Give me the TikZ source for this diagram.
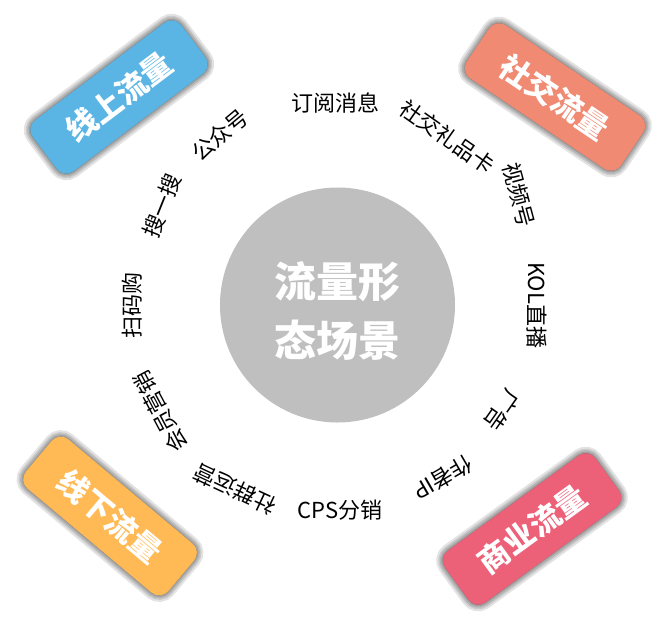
\documentclass[tikz,border=0pt]{standalone}
\usepackage{fontspec}
\setmainfont{Noto Sans CJK SC}
\definecolor{onlineblue}{RGB}{90,181,228}
\definecolor{socialred}{RGB}{240,138,115}
\definecolor{offlineorange}{RGB}{255,186,85}
\definecolor{bizpink}{RGB}{236,96,120}
\definecolor{hubgrey}{RGB}{191,191,191}
\tikzset{
  glow/.style={preaction={draw=black, fill=black, opacity=0.11, line width=#1}},
  flowbox/.style={rounded corners=12pt, minimum width=186pt, minimum height=64pt,
    text=white, font=\fontsize{31}{31}\selectfont\bfseries,
    glow=13pt, glow=9pt, glow=6pt, glow=3pt},
  tag/.style={font=\fontsize{22}{22}\selectfont, inner sep=0pt}
}

\begin{document}
\begin{tikzpicture}[x=1pt,y=-1pt]
  \useasboundingbox (0,0) rectangle (669,627);
  % centre
  \node[circle, fill=hubgrey, minimum size=235pt] (hub) at (337.5,305) {};
  \node[text=white, align=center, font=\fontsize{42}{59}\selectfont\bfseries]
    (hubtext) at ([yshift=-6pt]hub.center) {流量形\\态场景};

  % four corners
  \node[flowbox, fill=onlineblue, rotate=37] (online) at (119,97) {线上流量};
  \node[flowbox, fill=socialred, rotate=-34] (social) at (555,97) {社交流量};
  \node[flowbox, fill=offlineorange, rotate=-40] (offline) at (110,516) {线下流量};
  \node[flowbox, fill=bizpink, rotate=36] (business) at (532,529) {商业流量};

  % ring of scenes
  \node[tag] (subscribe) at (335,103) {订阅消息};
  \node[tag, rotate=-35] (gift) at (447,137) {社交礼品卡};
  \node[tag, rotate=-75] (video) at (519,195) {视频号};
  \node[tag, rotate=-90] (kol) at (537,305) {KOL直播};
  \node[tag, rotate=-125] (ads) at (502,410) {广告};
  \node[tag, rotate=-150] (ip) at (443,478) {作者IP};
  \node[tag] (cps) at (340,510) {CPS分销};
  \node[tag, rotate=155] (group) at (235,489) {社群运营};
  \node[tag, rotate=118] (member) at (160,412) {会员营销};
  \node[tag, rotate=90] (scan) at (132,305) {扫码购};
  \node[tag, rotate=68] (search) at (162,206) {搜一搜};
  \node[tag, rotate=40] (official) at (220,135) {公众号};
\end{tikzpicture}
\end{document}
